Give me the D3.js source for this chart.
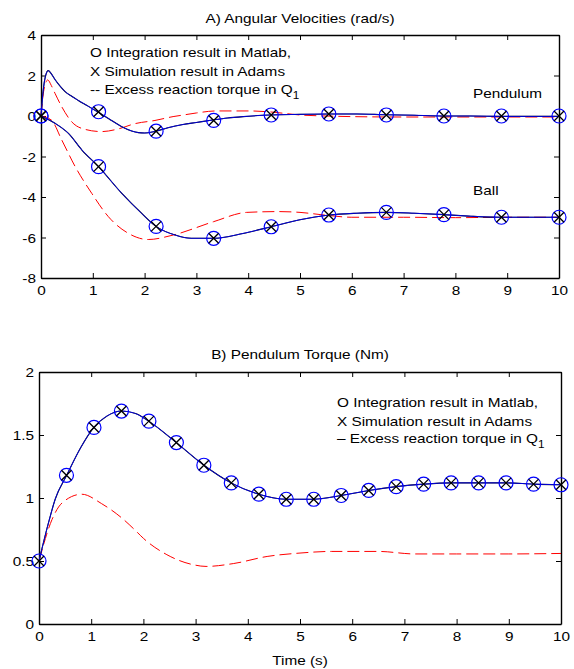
<!DOCTYPE html>
<html>
<head>
<meta charset="utf-8">
<script src="https://cdnjs.cloudflare.com/ajax/libs/d3/7.8.5/d3.min.js"></script>
<style>
body { margin: 0; background: #fff; }
text { font-family: "Liberation Sans", Arial, sans-serif; font-size: 13px; fill: #000; }
</style>
</head>
<body>
<div id="chart"></div>
<script>
// ---- A) angular velocities ----
var tPend = [0, 0.04, 0.09, 0.14, 0.2, 0.27, 0.36, 0.46, 0.6, 0.72, 0.9, 1.09, 1.3, 1.56, 1.75, 1.88, 2.0, 2.2, 2.45, 2.74, 3.0, 3.31, 3.6, 3.9, 4.42, 5.0, 5.55, 6.1, 6.67, 7.2, 7.75, 8.3, 8.89, 9.4, 10];
var pendSolid = [0, 1.2, 2.0, 2.24, 2.08, 1.8, 1.5, 1.22, 0.96, 0.77, 0.5, 0.21, -0.12, -0.53, -0.74, -0.82, -0.84, -0.76, -0.58, -0.42, -0.32, -0.2, -0.1, -0.03, 0.05, 0.08, 0.1, 0.1, 0.06, 0.04, 0, 0, -0.02, -0.02, -0.02];
var tPendRed = [0, 0.05, 0.13, 0.2, 0.27, 0.4, 0.59, 0.85, 1.17, 1.49, 1.81, 2.2, 2.55, 2.75, 3.0, 3.39, 4.03, 4.43, 5.0, 5.5, 6.0, 7, 8, 9, 10];
var pendRed = [0, 1.2, 1.78, 1.5, 1.12, 0.46, -0.28, -0.66, -0.77, -0.64, -0.38, -0.22, -0.03, 0.05, 0.15, 0.25, 0.25, 0.2, 0.05, 0, -0.03, -0.05, -0.05, -0.05, -0.05];
var tBall = [0, 0.27, 0.53, 0.79, 1.11, 1.56, 1.94, 2.22, 2.59, 2.9, 3.33, 3.9, 4.44, 5.0, 5.56, 6.1, 6.67, 7.2, 7.78, 8.3, 8.89, 9.5, 10];
var ballSolid = [0, -0.36, -0.86, -1.68, -2.5, -3.82, -4.8, -5.45, -5.88, -6.04, -6.04, -5.8, -5.47, -5.12, -4.89, -4.8, -4.76, -4.8, -4.87, -4.95, -5.0, -5.0, -5.0];
var tBallRed = [0, 0.2, 0.4, 0.66, 0.98, 1.3, 1.69, 2.07, 2.55, 3.33, 3.97, 4.6, 5.0, 5.5, 6.0, 7, 8, 9, 10];
var ballRed = [0, -0.2, -1.18, -2.5, -3.82, -4.97, -5.8, -6.1, -5.88, -5.22, -4.76, -4.72, -4.76, -4.9, -5.0, -5.0, -5.02, -5.0, -5.0];
var tMarkA = [0, 1.111, 2.222, 3.333, 4.444, 5.556, 6.667, 7.778, 8.889, 10];
var pendMarks = [0, 0.21, -0.75, -0.22, 0.05, 0.1, 0.05, 0, 0, 0];
var ballMarks = [0, -2.5, -5.45, -6.04, -5.47, -4.89, -4.76, -4.87, -5.0, -5.0];
var yTicksA = [-8, -6, -4, -2, 0, 2, 4];

// ---- B) pendulum torque ----
var tTorque = [0, 0.18, 0.31, 0.53, 0.8, 1.05, 1.3, 1.58, 1.85, 2.1, 2.63, 3.16, 3.68, 4.21, 4.74, 5.26, 5.79, 6.32, 6.84, 7.37, 7.89, 8.42, 8.95, 9.47, 10];
var torqueSolid = [0.5, 0.8, 0.99, 1.18, 1.4, 1.56, 1.65, 1.69, 1.67, 1.61, 1.44, 1.26, 1.12, 1.03, 0.99, 0.99, 1.02, 1.06, 1.09, 1.11, 1.12, 1.12, 1.12, 1.11, 1.105];
var tTorqueRed = [0, 0.25, 0.44, 0.82, 1.2, 1.59, 1.84, 2.0, 2.45, 2.96, 3.2, 3.73, 4.37, 5.0, 5.6, 6.5, 7.2, 8, 9, 10];
var torqueRed = [0.5, 0.83, 0.96, 1.03, 0.955, 0.84, 0.745, 0.68, 0.55, 0.47, 0.457, 0.48, 0.536, 0.563, 0.576, 0.576, 0.556, 0.556, 0.556, 0.56];
var tMarkB = [0, 0.526, 1.053, 1.579, 2.105, 2.632, 3.158, 3.684, 4.211, 4.737, 5.263, 5.789, 6.316, 6.842, 7.368, 7.895, 8.421, 8.947, 9.474, 10];
var torqueMarks = [0.5, 1.18, 1.56, 1.69, 1.61, 1.44, 1.26, 1.12, 1.03, 0.99, 0.99, 1.02, 1.06, 1.09, 1.11, 1.12, 1.12, 1.12, 1.11, 1.105];
var yTicksB = [0, 0.5, 1, 1.5, 2];

var xTicks = [0, 1, 2, 3, 4, 5, 6, 7, 8, 9, 10];
var legendLines = ["O Integration result in Matlab,", "X Simulation result in Adams"];

var sx = 1.18; // text in the picture is stretched wide
var svg = d3.select("#chart").append("svg")
  .attr("width", 574)
  .attr("height", 669);

function txt(g, x, y, s, anchor) {
  return g.append("text")
    .attr("transform", "translate(" + x + "," + y + ") scale(" + sx + ",1)")
    .attr("text-anchor", anchor || "start")
    .text(s);
}

function zip(ts, vs) {
  return ts.map(function(t, i) { return [t, vs[i]]; });
}

function drawPanel(p) {
  var x = d3.scaleLinear().domain([0, 10]).range([p.left, p.right]);
  var y = d3.scaleLinear().domain(p.yDomain).range([p.bottom, p.top]);
  var g = svg.append("g");

  // box with inward ticks
  var fmt = function(d) { return String(d); };
  var axB = g.append("g").attr("transform", "translate(0," + p.bottom + ")")
    .call(d3.axisBottom(x).tickValues(xTicks).tickFormat(fmt).tickSizeInner(-5).tickSizeOuter(0));
  axB.selectAll(".tick text").attr("y", 17).attr("dy", null).attr("transform", "scale(" + sx + ",1)");
  var axL = g.append("g").attr("transform", "translate(" + p.left + ",0)")
    .call(d3.axisLeft(y).tickValues(p.yTicks).tickFormat(fmt).tickSizeInner(-5).tickSizeOuter(0));
  axL.selectAll(".tick text").attr("x", -5 / sx).attr("dy", "0.36em").attr("transform", "scale(" + sx + ",1)");
  g.append("g").attr("transform", "translate(0," + p.top + ")")
    .call(d3.axisTop(x).tickValues(xTicks).tickFormat("").tickSizeInner(-5).tickSizeOuter(0));
  g.append("g").attr("transform", "translate(" + p.right + ",0)")
    .call(d3.axisRight(y).tickValues(p.yTicks).tickFormat("").tickSizeInner(-5).tickSizeOuter(0));
  g.selectAll(".domain").attr("stroke-width", 1.4);
  g.selectAll(".tick line").attr("stroke-width", 1);
  g.selectAll("text").attr("font-size", null).attr("font-family", null);

  var line = d3.line()
    .x(function(d) { return x(d[0]); })
    .y(function(d) { return y(d[1]); })
    .curve(d3.curveMonotoneX);

  p.series.forEach(function(s) {
    g.append("path").datum(zip(s.tRed, s.red)).attr("d", line)
      .attr("fill", "none").attr("stroke", "#ff0000").attr("stroke-width", 1)
      .attr("stroke-dasharray", "12,5");
  });
  p.series.forEach(function(s) {
    var solid = zip(s.t, s.solid);
    g.append("path").datum(solid).attr("d", line)
      .attr("fill", "none").attr("stroke", "#000").attr("stroke-width", 1.1);
    g.append("path").datum(solid).attr("d", line)
      .attr("fill", "none").attr("stroke", "#0000ff").attr("stroke-width", 1)
      .attr("stroke-opacity", 0.85);
    var marks = zip(s.tMark, s.marks);
    g.selectAll(null).data(marks).enter().append("circle")
      .attr("cx", function(d) { return x(d[0]); })
      .attr("cy", function(d) { return y(d[1]); })
      .attr("r", 7)
      .attr("fill", "none").attr("stroke", "#0000ff").attr("stroke-width", 1.2);
    g.selectAll(null).data(marks).enter().append("path")
      .attr("transform", function(d) { return "translate(" + x(d[0]) + "," + y(d[1]) + ")"; })
      .attr("d", "M-5,-5L5,5M-5,5L5,-5")
      .attr("fill", "none").attr("stroke", "#000").attr("stroke-width", 1.3);
  });

  txt(g, (p.left + p.right) / 2, p.titleY, p.title, "middle");

  // legend text
  legendLines.forEach(function(s, i) {
    txt(g, p.legX, p.legY[i], s);
  });
  var last = txt(g, p.legX, p.legY[2], p.dash + " Excess reaction torque in Q");
  last.append("tspan").attr("dy", 5).style("font-size", "10px").text("1");

  return g;
}

var gA = drawPanel({
  left: 41, right: 559, top: 35, bottom: 278,
  yDomain: [-8, 4], yTicks: yTicksA,
  title: "A) Angular Velocities (rad/s)", titleY: 23,
  legX: 90, legY: [57, 76, 94], dash: "--",
  series: [
    { t: tPend, solid: pendSolid, tRed: tPendRed, red: pendRed, tMark: tMarkA, marks: pendMarks },
    { t: tBall, solid: ballSolid, tRed: tBallRed, red: ballRed, tMark: tMarkA, marks: ballMarks }
  ]
});
txt(gA, 473, 98, "Pendulum");
txt(gA, 473, 195, "Ball");

var gB = drawPanel({
  left: 39, right: 561, top: 372, bottom: 624,
  yDomain: [0, 2], yTicks: yTicksB,
  title: "B) Pendulum Torque (Nm)", titleY: 359,
  legX: 337, legY: [407, 425.5, 442.5], dash: "\u2013",
  series: [
    { t: tTorque, solid: torqueSolid, tRed: tTorqueRed, red: torqueRed, tMark: tMarkB, marks: torqueMarks }
  ]
});
txt(gB, 300, 665, "Time (s)", "middle");
</script>
</body>
</html>
